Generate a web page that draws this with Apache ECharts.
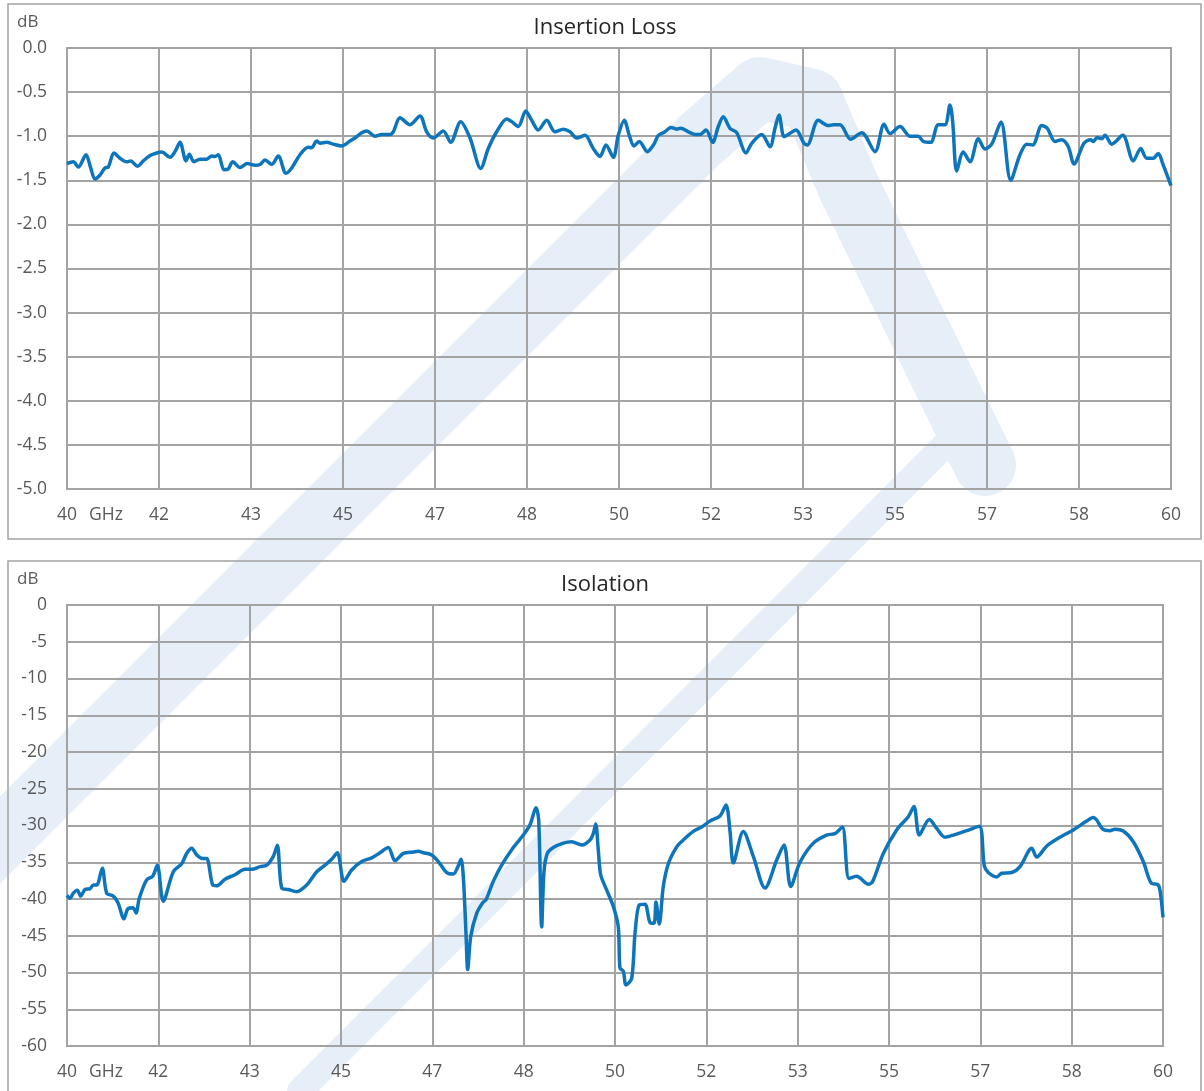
<!DOCTYPE html>
<html><head><meta charset="utf-8">
<script src="https://cdn.jsdelivr.net/npm/echarts@6/dist/echarts.min.js"></script>
<style>html,body{margin:0;padding:0;background:#fff}#c{width:1204px;height:1091px}</style>
</head><body><div id="c"></div>
<script>
const xTickLabels = ['40','42','43','45','47','48','50','52','53','55','57','58','60'];
const xMin = 40, xMax = 60;
const lossTicks = {min: -5, max: 0, step: 0.5};
const isoTicks = {min: -60, max: 0, step: 5};

const insertionLoss = [
[40.0,-1.31],[40.114,-1.29],[40.205,-1.35],[40.344,-1.21],[40.429,-1.36],[40.507,-1.485],[40.598,-1.44],[40.688,-1.36],[40.748,-1.35],[40.851,-1.19],[40.96,-1.25],[41.082,-1.29],[41.154,-1.28],[41.274,-1.34],[41.382,-1.28],[41.504,-1.22],[41.625,-1.19],[41.716,-1.18],[41.866,-1.24],[41.957,-1.175],[42.047,-1.07],[42.156,-1.28],[42.216,-1.205],[42.301,-1.29],[42.409,-1.26],[42.531,-1.26],[42.621,-1.225],[42.681,-1.23],[42.741,-1.21],[42.844,-1.38],[42.922,-1.37],[43.002,-1.29],[43.134,-1.355],[43.266,-1.31],[43.406,-1.33],[43.496,-1.32],[43.587,-1.27],[43.708,-1.32],[43.828,-1.225],[43.967,-1.42],[44.071,-1.36],[44.221,-1.21],[44.371,-1.126],[44.433,-1.13],[44.524,-1.055],[44.583,-1.08],[44.705,-1.07],[44.824,-1.09],[44.976,-1.11],[45.127,-1.055],[45.217,-1.02],[45.339,-0.96],[45.429,-0.94],[45.58,-1.0],[45.701,-0.98],[45.851,-0.98],[45.911,-0.95],[46.033,-0.79],[46.214,-0.87],[46.395,-0.77],[46.516,-0.95],[46.636,-1.02],[46.817,-0.94],[46.951,-1.07],[47.132,-0.835],[47.301,-1.02],[47.495,-1.365],[47.632,-1.14],[47.784,-0.95],[47.966,-0.805],[48.056,-0.835],[48.176,-0.89],[48.31,-0.715],[48.418,-0.82],[48.538,-0.93],[48.69,-0.82],[48.841,-0.95],[48.991,-0.92],[49.112,-0.95],[49.234,-1.02],[49.384,-0.99],[49.534,-1.14],[49.656,-1.23],[49.764,-1.10],[49.897,-1.24],[49.987,-0.99],[50.096,-0.82],[50.186,-0.99],[50.272,-1.11],[50.368,-1.06],[50.513,-1.175],[50.634,-1.09],[50.712,-0.99],[50.833,-0.95],[50.937,-0.90],[51.045,-0.92],[51.118,-0.91],[51.255,-0.95],[51.377,-0.98],[51.467,-0.98],[51.576,-0.93],[51.697,-1.07],[51.799,-0.89],[51.889,-0.78],[52.011,-0.91],[52.132,-0.96],[52.301,-1.19],[52.404,-1.08],[52.585,-0.98],[52.736,-1.12],[52.826,-0.91],[52.899,-0.76],[52.989,-1.005],[53.067,-0.98],[53.207,-0.93],[53.351,-1.08],[53.411,-1.10],[53.61,-0.82],[53.792,-0.88],[53.882,-0.87],[54.004,-0.87],[54.197,-1.035],[54.397,-0.96],[54.638,-1.175],[54.801,-0.865],[54.909,-0.97],[55.091,-0.89],[55.272,-1.0],[55.422,-1.0],[55.513,-1.06],[55.647,-1.07],[55.784,-0.87],[55.906,-0.87],[55.996,-0.646],[56.045,-0.835],[56.118,-1.395],[56.237,-1.18],[56.359,-1.29],[56.509,-1.03],[56.63,-1.145],[56.752,-1.09],[56.92,-0.84],[57.096,-1.50],[57.264,-1.21],[57.386,-1.09],[57.495,-1.10],[57.658,-0.88],[57.759,-0.91],[57.899,-1.06],[58.02,-1.04],[58.14,-1.12],[58.243,-1.315],[58.424,-1.08],[58.545,-1.04],[58.592,-1.06],[58.665,-1.015],[58.745,-1.03],[58.804,-0.99],[58.926,-1.09],[59.125,-0.99],[59.317,-1.28],[59.451,-1.14],[59.56,-1.25],[59.679,-1.25],[59.77,-1.195],[59.85,-1.31],[60.0,-1.56]
];

const isolation = [
[40.0,-39.5],[40.055,-39.9],[40.115,-39.2],[40.188,-38.8],[40.25,-39.6],[40.328,-38.7],[40.42,-38.6],[40.48,-38.1],[40.542,-38.1],[40.644,-35.8],[40.724,-39.2],[40.845,-39.6],[40.93,-40.5],[41.04,-42.7],[41.113,-41.3],[41.204,-41.2],[41.259,-41.9],[41.319,-39.9],[41.454,-37.4],[41.564,-36.9],[41.648,-35.4],[41.757,-40.3],[41.94,-36.3],[42.093,-35.2],[42.184,-33.8],[42.276,-33.1],[42.367,-34.0],[42.476,-34.5],[42.549,-34.5],[42.659,-38.1],[42.732,-38.2],[42.883,-37.3],[43.066,-36.7],[43.248,-35.96],[43.37,-35.96],[43.522,-35.6],[43.644,-35.4],[43.765,-34.2],[43.838,-32.7],[43.918,-38.5],[44.038,-38.7],[44.192,-39.0],[44.374,-38.1],[44.557,-36.3],[44.708,-35.4],[44.83,-34.6],[44.932,-33.7],[45.055,-37.6],[45.195,-36.05],[45.378,-34.9],[45.56,-34.4],[45.712,-33.7],[45.863,-33.0],[45.985,-34.8],[46.137,-33.8],[46.319,-33.6],[46.411,-33.5],[46.502,-33.7],[46.655,-34.0],[46.776,-34.9],[46.929,-36.4],[47.05,-36.6],[47.122,-35.8],[47.19,-34.6],[47.232,-37.0],[47.281,-44.7],[47.312,-49.6],[47.367,-45.1],[47.476,-41.95],[47.586,-40.5],[47.646,-40.1],[47.779,-37.6],[47.932,-35.4],[48.144,-33.0],[48.327,-31.3],[48.449,-29.9],[48.558,-27.6],[48.608,-29.3],[48.662,-43.8],[48.704,-36.3],[48.765,-33.8],[48.874,-33.0],[49.057,-32.4],[49.21,-32.2],[49.392,-32.65],[49.544,-31.97],[49.604,-31.1],[49.648,-29.8],[49.695,-33.3],[49.739,-36.7],[49.849,-38.8],[49.969,-41.0],[50.06,-43.8],[50.091,-49.4],[50.151,-49.8],[50.201,-51.7],[50.305,-50.8],[50.365,-44.7],[50.443,-40.8],[50.547,-40.7],[50.639,-43.2],[50.712,-43.3],[50.748,-40.4],[50.808,-43.4],[50.881,-38.3],[50.973,-35.2],[51.126,-32.9],[51.246,-31.97],[51.429,-30.8],[51.582,-30.2],[51.734,-29.4],[51.916,-28.7],[52.026,-27.2],[52.099,-30.8],[52.159,-35.1],[52.341,-30.8],[52.524,-34.2],[52.737,-38.5],[52.951,-34.7],[53.084,-32.65],[53.206,-38.3],[53.376,-35.0],[53.619,-32.4],[53.863,-31.3],[54.015,-31.1],[54.148,-30.2],[54.27,-37.2],[54.411,-36.9],[54.622,-38.0],[54.703,-37.6],[54.896,-33.8],[55.14,-30.6],[55.352,-28.8],[55.456,-27.4],[55.553,-31.3],[55.735,-29.2],[55.87,-30.4],[56.022,-31.6],[56.173,-31.3],[56.418,-30.7],[56.648,-30.1],[56.739,-35.5],[56.812,-36.4],[56.965,-37.0],[57.057,-36.5],[57.239,-36.4],[57.391,-35.6],[57.604,-33.1],[57.695,-34.3],[57.878,-32.8],[58.12,-31.6],[58.363,-30.6],[58.608,-29.4],[58.728,-28.9],[58.79,-29.25],[58.9,-30.5],[59.033,-30.7],[59.124,-30.5],[59.275,-30.75],[59.458,-32.2],[59.64,-34.9],[59.794,-37.9],[59.896,-38.0],[59.945,-38.8],[60.0,-42.5]
];

const FONT = '"Open Sans", "Noto Sans", sans-serif';
const GRID = '#a3a3a3';
const LABEL = '#595959';
const LINE = '#0e75bb';
const WM = '#e6eef7';
const xStep = (xMax - xMin) / (xTickLabels.length - 1);

function xAxisFor(gi) {
  return {
    gridIndex: gi, type: 'value', min: xMin, max: xMax, interval: xStep,
    axisLine: {show: true, lineStyle: {color: GRID, width: 2}},
    axisTick: {show: false},
    splitLine: {show: true, lineStyle: {color: GRID, width: 2}},
    axisLabel: {
      color: LABEL, fontSize: 17.5, fontFamily: FONT, margin: 17,
      formatter: v => xTickLabels[Math.round((v - xMin) / xStep)]
    }
  };
}
function yAxisFor(gi, t, dec) {
  return {
    gridIndex: gi, type: 'value', min: t.min, max: t.max, interval: t.step,
    axisLine: {show: true, lineStyle: {color: GRID, width: 2}},
    axisTick: {show: false},
    splitLine: {show: true, lineStyle: {color: GRID, width: 2}},
    axisLabel: {color: LABEL, fontSize: 17.5, fontFamily: FONT, margin: 20,
      formatter: v => Number(v).toFixed(dec)}
  };
}

const chart = echarts.init(document.getElementById('c'), null, {renderer: 'canvas'});
chart.setOption({
  animation: false,
  backgroundColor: '#fff',
  grid: [
    {left: 67, top: 48, width: 1104, height: 441, show: true, borderColor: GRID, borderWidth: 2, backgroundColor: 'transparent'},
    {left: 67, top: 605, width: 1096, height: 441, show: true, borderColor: GRID, borderWidth: 2, backgroundColor: 'transparent'}
  ],
  xAxis: [xAxisFor(0), xAxisFor(1)],
  yAxis: [yAxisFor(0, lossTicks, 1), yAxisFor(1, isoTicks, 0)],
  series: [
    {type: 'line', xAxisIndex: 0, yAxisIndex: 0, data: insertionLoss, showSymbol: false, smooth: 0.3,
     lineStyle: {color: LINE, width: 3.5}, z: 5},
    {type: 'line', xAxisIndex: 1, yAxisIndex: 1, data: isolation, showSymbol: false, smooth: 0.3,
     lineStyle: {color: LINE, width: 3.5}, z: 5}
  ],
  graphic: [
    {type: 'polyline', z: -10, silent: true,
     shape: {points: [[-60, 900], [700, 140], [760, 88], [812, 100], [850, 190], [985, 465]]},
     style: {fill: null, stroke: WM, lineWidth: 62, lineJoin: 'round', lineCap: 'round'}},
    {type: 'polyline', z: -10, silent: true,
     shape: {points: [[965, 425], [300, 1091]]},
     style: {fill: null, stroke: WM, lineWidth: 26, lineCap: 'round'}},
    {type: 'rect', shape: {x: 8, y: 4, width: 1193, height: 535}, style: {fill: 'none', stroke: GRID, lineWidth: 1.5}, z: 1},
    {type: 'rect', shape: {x: 8, y: 561, width: 1193, height: 560}, style: {fill: 'none', stroke: GRID, lineWidth: 1.5}, z: 1},
    {type: 'text', x: 605, y: 28, style: {text: 'Insertion Loss', fill: '#262626', font: '22px ' + FONT, textAlign: 'center', textVerticalAlign: 'middle'}, z: 10},
    {type: 'text', x: 605, y: 585, style: {text: 'Isolation', fill: '#262626', font: '22px ' + FONT, textAlign: 'center', textVerticalAlign: 'middle'}, z: 10},
    {type: 'text', x: 17, y: 22, style: {text: 'dB', fill: LABEL, font: '17px ' + FONT, textAlign: 'left', textVerticalAlign: 'middle'}, z: 10},
    {type: 'text', x: 17, y: 579, style: {text: 'dB', fill: LABEL, font: '17px ' + FONT, textAlign: 'left', textVerticalAlign: 'middle'}, z: 10},
    {type: 'text', x: 106, y: 515, style: {text: 'GHz', fill: LABEL, font: '17.5px ' + FONT, textAlign: 'center', textVerticalAlign: 'middle'}, z: 10},
    {type: 'text', x: 106, y: 1072, style: {text: 'GHz', fill: LABEL, font: '17.5px ' + FONT, textAlign: 'center', textVerticalAlign: 'middle'}, z: 10}
  ]
});
</script>
</body></html>
